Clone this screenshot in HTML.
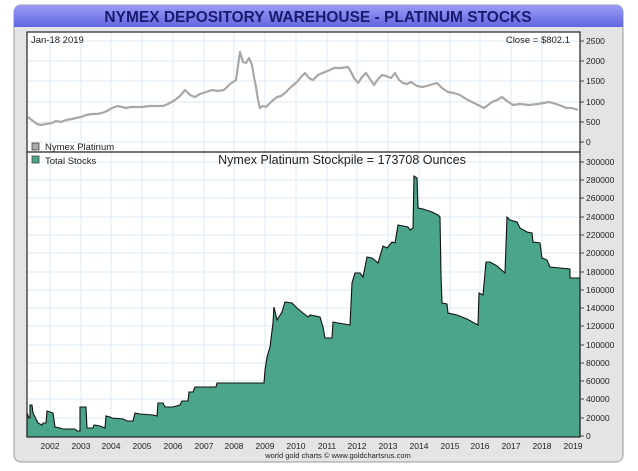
<!DOCTYPE html>
<html><head><style>
body{margin:0;width:638px;height:466px;background:#fff;overflow:hidden;font-family:"Liberation Sans",sans-serif}
</style></head><body>
<svg width="638" height="466" xmlns="http://www.w3.org/2000/svg" font-family="Liberation Sans, sans-serif">
<defs><linearGradient id="tg" x1="0" y1="0" x2="0" y2="1"><stop offset="0" stop-color="#9a9cf5"/><stop offset="1" stop-color="#6266e0"/></linearGradient></defs>
<rect x="14" y="5" width="609" height="457" rx="7" fill="#e4e4e4" stroke="#999"/>
<path d="M14 27 V12 Q14 5 21 5 H616 Q623 5 623 12 V27 Z" fill="url(#tg)"/>
<text x="318" y="22" text-anchor="middle" font-size="15.5" font-weight="bold" fill="#1a1a6e">NYMEX DEPOSITORY WAREHOUSE - PLATINUM STOCKS</text>
<rect x="27" y="32" width="553" height="405" fill="#fff"/>
<g stroke="#dcebf5" stroke-width="1">
<path d="M50 32V437M81 32V437M111 32V437M142 32V437M173 32V437M204 32V437M234 32V437M265 32V437M296 32V437M327 32V437M357 32V437M388 32V437M419 32V437M450 32V437M480 32V437M511 32V437M542 32V437"/>
<path d="M27 41H580M27 61H580M27 81H580M27 102H580M27 122H580M27 142H580"/>
<path d="M27 162H580M27 180H580M27 198H580M27 217H580M27 235H580M27 253H580M27 272H580M27 290H580M27 308H580M27 326H580M27 345H580M27 363H580M27 381H580M27 399H580M27 418H580"/>
</g>
<polyline fill="none" stroke="#a8a8a8" stroke-width="2.2" stroke-linejoin="round" points="28,117 33,121 37,124 41,125 46,124 52,123 56,121 61,122 66,120 72,119 76,118 81,117 86,115 92,114 97,114 102,113 107,111 112,108 118,106 122,107 126,108 131,107 136,107 142,107 150,106 156,106 163,106 168,104 175,100 180,96 185,90 190,95 195,97 200,94 206,92 212,90 218,91 224,90 230,84 236,80 238,66 240,52 243,62 246,63 249,58 252,65 254,77 256,87 258,100 260,108 263,106 266,107 271,102 277,97 281,96 285,93 291,87 297,82 301,77 305,73 309,78 313,80 318,75 325,72 330,70 334,68 341,68 348,67 351,72 354,78 358,83 362,77 366,73 370,79 374,85 378,79 382,75 386,76 391,78 395,73 399,80 403,83 407,84 411,82 417,86 423,87 430,85 437,83 442,88 448,92 454,93 460,95 466,99 472,102 478,105 484,108 488,105 492,102 497,100 502,97 507,101 513,105 520,104 529,105 538,104 549,102 556,104 562,106 566,108 572,108 578,110"/>
<path fill="#4aa58a" stroke="#111" stroke-width="1.1" d="M27,413 L29,418 L30,418 L30,405 L32,405 L33,413 L38,423 L42,425 L43,423 L46,423 L47,411 L50,412 L53,413 L55,427 L60,428 L63,429 L75,429 L77,431 L80,431 L80,407 L86,407 L87,428 L93,428 L94,425 L100,426 L105,428 L106,416 L110,417 L112,418 L123,419 L127,421 L133,421 L135,413 L140,414 L153,415 L157,416 L158,403 L163,403 L165,407 L173,407 L180,405 L182,401 L188,401 L189,392 L193,392 L195,387 L213,387 L216,387 L217,383 L264,383 L265,370 L267,357 L270,347 L273,323 L274,307 L277,320 L282,312 L285,302 L292,303 L297,308 L303,313 L308,317 L310,315 L320,317 L323,327 L325,338 L332,338 L333,322 L338,323 L350,325 L352,283 L355,273 L360,273 L363,277 L367,257 L372,258 L377,262 L378,263 L383,246 L387,248 L392,242 L395,243 L398,225 L408,227 L410,230 L413,228 L414,176 L417,178 L418,208 L423,209 L432,212 L438,215 L440,217 L441,275 L442,303 L447,304 L448,313 L457,315 L467,319 L478,325 L479,293 L483,295 L486,262 L490,262 L497,266 L505,273 L507,217 L510,220 L517,222 L520,228 L527,232 L532,233 L533,242 L540,243 L542,258 L547,260 L550,267 L570,269 L570,278 L580,278 L580,437 L27,437 Z"/>
<rect x="27" y="32" width="553" height="405" fill="none" stroke="#222" stroke-width="1.2"/>
<line x1="27" y1="152" x2="580" y2="152" stroke="#222" stroke-width="1.2"/>
<g font-size="9.5" fill="#222">
<text x="31" y="43">Jan-18  2019</text>
<text x="570" y="43" text-anchor="end">Close = $802.1</text>
<rect x="32" y="143" width="7" height="7" fill="#aaa" stroke="#444" stroke-width="0.8"/>
<text x="45" y="150">Nymex Platinum</text>
<rect x="32" y="156" width="7" height="7" fill="#4aa58a" stroke="#444" stroke-width="0.8"/>
<text x="45" y="164">Total Stocks</text>
</g>
<text x="342" y="164" text-anchor="middle" font-size="12.5" fill="#222">Nymex Platinum Stockpile = 173708 Ounces</text>
<g font-size="8.5" fill="#222">
<g stroke="#444"><path d="M580 41h4M580 61h4M580 81h4M580 102h4M580 122h4M580 142h4M580 162h4M580 180h4M580 198h4M580 217h4M580 235h4M580 253h4M580 272h4M580 290h4M580 308h4M580 326h4M580 345h4M580 363h4M580 381h4M580 399h4M580 418h4M580 436h4"/></g>
<text x="586" y="44">2500</text><text x="586" y="64">2000</text><text x="586" y="84">1500</text><text x="586" y="105">1000</text><text x="586" y="125">500</text><text x="586" y="145">0</text>
<text x="586" y="165">300000</text><text x="586" y="183">280000</text><text x="586" y="201">260000</text><text x="586" y="220">240000</text><text x="586" y="238">220000</text><text x="586" y="256">200000</text><text x="586" y="275">180000</text><text x="586" y="293">160000</text><text x="586" y="311">140000</text><text x="586" y="329">120000</text><text x="586" y="348">100000</text><text x="586" y="366">80000</text><text x="586" y="384">60000</text><text x="586" y="402">40000</text><text x="586" y="421">20000</text><text x="586" y="439">0</text>
</g>
<g font-size="8.5" fill="#222" text-anchor="middle">
<text x="50" y="449">2002</text><text x="81" y="449">2003</text><text x="111" y="449">2004</text><text x="142" y="449">2005</text><text x="173" y="449">2006</text><text x="204" y="449">2007</text><text x="234" y="449">2008</text><text x="265" y="449">2009</text><text x="296" y="449">2010</text><text x="327" y="449">2011</text><text x="357" y="449">2012</text><text x="388" y="449">2013</text><text x="419" y="449">2014</text><text x="450" y="449">2015</text><text x="480" y="449">2016</text><text x="511" y="449">2017</text><text x="542" y="449">2018</text><text x="573" y="449">2019</text>
<text x="338" y="458" font-size="7.5">world gold charts © www.goldchartsrus.com</text>
</g>
</svg>
</body></html>
